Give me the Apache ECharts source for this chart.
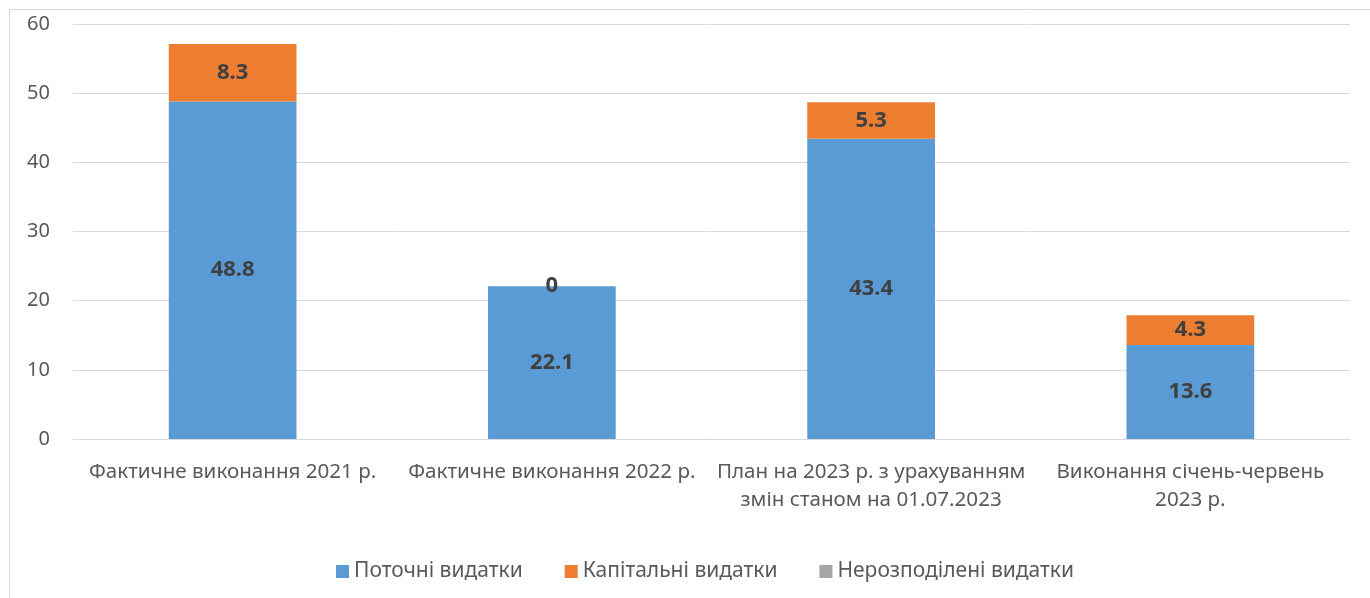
<!DOCTYPE html>
<html>
<head>
<meta charset="utf-8">
<script src="https://cdn.jsdelivr.net/npm/echarts@6/dist/echarts.min.js"></script>
<style>
  html, body { margin: 0; padding: 0; background: #fff; }
  #myChart { width: 1370px; height: 598px; }
</style>
</head>
<body>
<div id="myChart"></div>
<script>
// categories and series values
const categories = [
  "Фактичне виконання 2021 р.",
  "Фактичне виконання 2022 р.",
  "План на 2023 р. з урахуванням\nзмін станом на 01.07.2023",
  "Виконання січень-червень\n2023 р."
];
const currentSpend = [48.8, 22.1, 43.4, 13.6];
const capitalSpend = [8.3, 0, 5.3, 4.3];
const unallocatedSpend = [0, 0, 0, 0];
const seriesNames = ["Поточні видатки", "Капітальні видатки", "Нерозподілені видатки"];

const font = "'Noto Sans', 'Open Sans', sans-serif";

const barLabel = {
  show: true,
  position: "inside",
  color: "#404040",
  fontWeight: "bold",
  fontSize: 22,
  fontFamily: font
};

let myChart = echarts.init(document.getElementById("myChart"));
myChart.setOption({
  animation: false,
  textStyle: { fontFamily: font },
  graphic: [
    {
      type: "rect",
      shape: { x: 9.5, y: 9.5, width: 1400, height: 620 },
      style: { fill: "none", stroke: "#d9d9d9", lineWidth: 1 },
      silent: true
    }
  ],
  grid: { left: 73, right: 20, top: 24, bottom: 159 },
  legend: {
    top: 556,
    left: 331,
    itemWidth: 13,
    itemHeight: 13,
    itemGap: 42,
    icon: "rect",
    textStyle: { color: "#595959", fontSize: 21, fontFamily: font },
    data: seriesNames
  },
  xAxis: {
    type: "category",
    data: categories,
    axisLine: { lineStyle: { color: "#d9d9d9", width: 1 } },
    axisTick: { show: false },
    axisLabel: {
      color: "#595959",
      fontSize: 20.6,
      lineHeight: 28,
      margin: 19,
      interval: 0,
      fontFamily: font
    }
  },
  yAxis: {
    type: "value",
    min: 0,
    max: 60,
    interval: 10,
    axisLine: { show: false },
    axisTick: { show: false },
    splitLine: { lineStyle: { color: "#d9d9d9", width: 1 } },
    axisLabel: { color: "#595959", fontSize: 20, margin: 23, fontFamily: font }
  },
  series: [
    {
      name: seriesNames[0],
      type: "bar",
      stack: "total",
      barWidth: "40%",
      itemStyle: { color: "#5b9bd5" },
      label: barLabel,
      data: currentSpend
    },
    {
      name: seriesNames[1],
      type: "bar",
      stack: "total",
      itemStyle: { color: "#ed7d31" },
      label: barLabel,
      data: capitalSpend
    },
    {
      name: seriesNames[2],
      type: "bar",
      stack: "total",
      itemStyle: { color: "#a5a5a5" },
      label: { show: false },
      data: unallocatedSpend
    }
  ]
});
</script>
</body>
</html>
